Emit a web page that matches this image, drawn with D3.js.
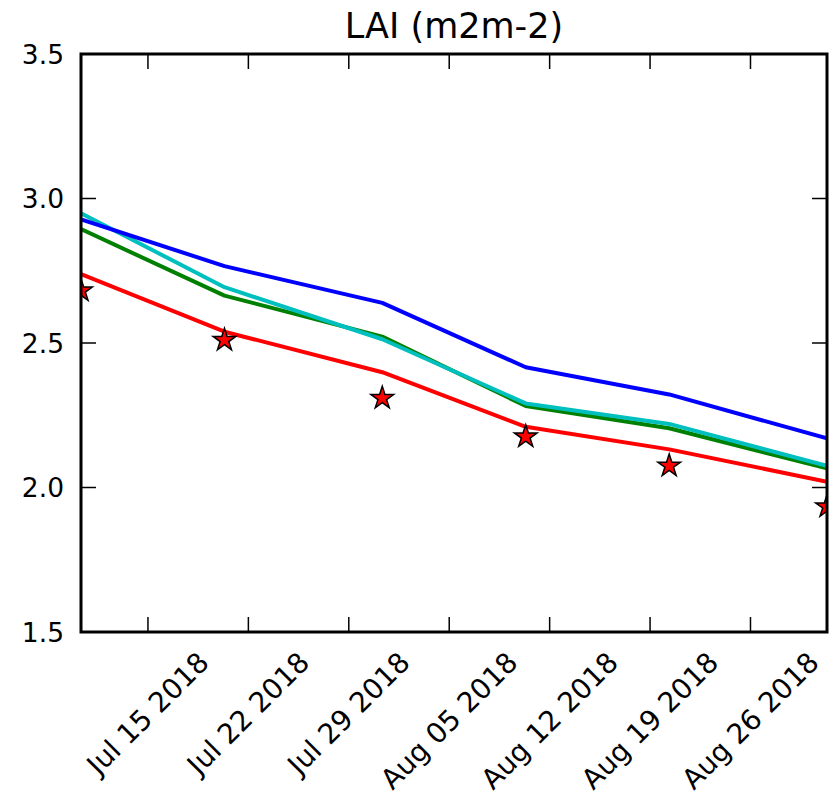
<!DOCTYPE html>
<html>
<head>
<meta charset="utf-8">
<script src="https://cdn.jsdelivr.net/npm/d3@7"></script>
<style>
  body { margin: 0; background: #fff; }
  text { font-family: "DejaVu Sans", sans-serif; fill: #000; }
</style>
</head>
<body>
<svg id="chart" width="829" height="797"></svg>
<script>
// dates of the model output / observations
let dates = ["2018-07-10T08:00", "2018-07-20T08:00", "2018-07-31T08:00",
             "2018-08-10T08:00", "2018-08-20T08:00", "2018-08-31T08:00"];

// simulated LAI series
let blueVals  = [2.928, 2.766, 2.639, 2.416, 2.322, 2.170];
let cyanVals  = [2.949, 2.693, 2.513, 2.291, 2.220, 2.075];
let greenVals = [2.894, 2.664, 2.522, 2.282, 2.205, 2.066];
let redVals   = [2.738, 2.539, 2.399, 2.210, 2.132, 2.020];
// observed LAI (stars)
let obsVals   = [2.681, 2.510, 2.309, 2.176, 2.075, 1.934];

let yTicks = [1.5, 2.0, 2.5, 3.0, 3.5];
let xTickDates = ["2018-07-15", "2018-07-22", "2018-07-29", "2018-08-05",
                  "2018-08-12", "2018-08-19", "2018-08-26"];

let parse = d3.timeParse("%Y-%m-%dT%H:%M");
let parseDay = d3.timeParse("%Y-%m-%d");
let times = dates.map(parse);

let svg = d3.select("#chart");
let mLeft = 81, mRight = 827, mTop = 54, mBottom = 632;

let xScale = d3.scaleTime().domain([times[0], times[times.length - 1]]).range([mLeft, mRight]);
let yScale = d3.scaleLinear().domain([1.5, 3.5]).range([mBottom, mTop]);

svg.append("defs").append("clipPath").attr("id", "plot-clip")
  .append("rect").attr("x", mLeft).attr("y", mTop)
  .attr("width", mRight - mLeft).attr("height", mBottom - mTop);

// title
svg.append("text")
  .attr("x", (mLeft + mRight) / 2).attr("y", 38)
  .attr("text-anchor", "middle")
  .style("font-size", "35px")
  .text("LAI (m2m-2)");

let plot = svg.append("g").attr("clip-path", "url(#plot-clip)");

let line = d3.line()
  .x((d, i) => xScale(times[i]))
  .y(d => yScale(d));

let series = [
  {vals: greenVals, color: "#008000"},
  {vals: cyanVals, color: "#00bfbf"},
  {vals: blueVals, color: "#0000ff"},
  {vals: redVals, color: "#ff0000"}
];

series.forEach(s => {
  plot.append("path")
    .datum(s.vals)
    .attr("d", line)
    .attr("fill", "none")
    .attr("stroke", s.color)
    .attr("stroke-width", 4)
    .attr("stroke-linejoin", "round");
});

// observation stars
plot.selectAll(".obs")
  .data(obsVals)
  .join("path")
  .attr("class", "obs")
  .attr("transform", (d, i) => `translate(${xScale(times[i])},${yScale(d)})`)
  .attr("d", d3.symbol(d3.symbolStar, 160))
  .attr("fill", "#ff0000")
  .attr("stroke", "#000")
  .attr("stroke-width", 1.5);

// ticks (inside, on all four sides, matplotlib classic style)
let tickLen = 15;
let xTicks = xTickDates.map(parseDay);

let ticks = svg.append("g").attr("stroke", "#000").attr("stroke-width", 1.5);
xTicks.forEach(t => {
  let x = xScale(t);
  ticks.append("line").attr("x1", x).attr("x2", x).attr("y1", mBottom).attr("y2", mBottom - tickLen);
  ticks.append("line").attr("x1", x).attr("x2", x).attr("y1", mTop).attr("y2", mTop + tickLen);
});
yTicks.forEach(v => {
  let y = yScale(v);
  ticks.append("line").attr("x1", mLeft).attr("x2", mLeft + tickLen).attr("y1", y).attr("y2", y);
  ticks.append("line").attr("x1", mRight).attr("x2", mRight - tickLen).attr("y1", y).attr("y2", y);
});

// frame
svg.append("rect")
  .attr("x", mLeft).attr("y", mTop)
  .attr("width", mRight - mLeft).attr("height", mBottom - mTop)
  .attr("fill", "none").attr("stroke", "#000").attr("stroke-width", 3);

// y tick labels
svg.selectAll(".ylab")
  .data(yTicks)
  .join("text")
  .attr("class", "ylab")
  .attr("x", mLeft - 17)
  .attr("y", d => yScale(d))
  .attr("dy", "0.36em")
  .attr("text-anchor", "end")
  .style("font-size", "26.5px")
  .text(d3.format(".1f"));

// x tick labels, rotated 45 degrees, centred on the tick, tops aligned
let fmt = d3.timeFormat("%b %d %Y");
let labelTop = 650, fs = 28;
xTicks.forEach(t => {
  let lab = svg.append("text")
    .style("font-size", fs + "px")
    .attr("text-anchor", "middle")
    .attr("dominant-baseline", "central")
    .text(fmt(t));
  let len = lab.node().getComputedTextLength();
  let h = fs * 0.75;
  let halfH = (len + h) / Math.SQRT2 / 2;
  let cx = xScale(t), cy = labelTop + halfH;
  lab.attr("transform", `translate(${cx},${cy}) rotate(-45)`);
});
</script>
</body>
</html>
